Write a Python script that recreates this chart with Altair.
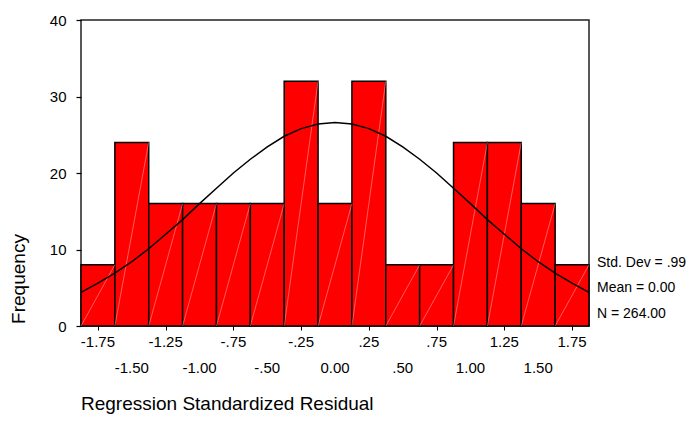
import altair as alt
import pandas as pd

# --- data -------------------------------------------------------------------
bin_centers = [-1.75, -1.50, -1.25, -1.00, -0.75, -0.50, -0.25, 0.00,
               0.25, 0.50, 0.75, 1.00, 1.25, 1.50, 1.75]
frequencies = [8, 24, 16, 16, 16, 16, 32, 16, 32, 8, 8, 24, 24, 16, 8]
bin_width = 0.25

curve_x = [-1.875, -1.75, -1.625, -1.5, -1.375, -1.25, -1.125, -1.0, -0.875,
           -0.75, -0.625, -0.5, -0.375, -0.25, -0.125, 0.0, 0.125, 0.25,
           0.375, 0.5, 0.625, 0.75, 0.875, 1.0, 1.125, 1.25, 1.375, 1.5,
           1.625, 1.75, 1.875]
curve_y = [4.4, 5.6, 6.9, 8.4, 10.1, 12.0, 13.9, 16.0, 18.0, 20.0, 21.8,
           23.4, 24.8, 25.8, 26.4, 26.6, 26.4, 25.8, 24.8, 23.4, 21.8, 20.0,
           18.0, 16.0, 13.9, 12.0, 10.1, 8.4, 6.9, 5.6, 4.4]

tick_labels = ["-1.75", "-1.50", "-1.25", "-1.00", "-.75", "-.50", "-.25",
               "0.00", ".25", ".50", ".75", "1.00", "1.25", "1.50", "1.75"]
y_ticks = [0, 10, 20, 30, 40]

stats_labels = ["Std. Dev = .99", "Mean = 0.00", "N = 264.00"]
x_title = "Regression Standardized Residual"
y_title = "Frequency"

# --- tables -------------------------------------------------------------------
bars = pd.DataFrame({"center": bin_centers, "freq": frequencies})
bars["x0"] = bars["center"] - bin_width / 2
bars["x1"] = bars["center"] + bin_width / 2
bars["zero"] = 0

curve = pd.DataFrame({"x": curve_x, "y": curve_y})
ticks = pd.DataFrame({"x": bin_centers, "label": tick_labels})
top_row = ticks.iloc[0::2]
bottom_row = ticks.iloc[1::2]

W, H = 508, 306
FONT = "Liberation Sans"

xs = alt.Scale(domain=[-1.875, 1.875], nice=False, zero=False)
ys = alt.Scale(domain=[0, 40], nice=False)

x_axis = alt.Axis(values=bin_centers, labels=False, title=None, domain=False,
                  grid=False, tickSize=4, tickColor="black", tickWidth=1)
y_axis = alt.Axis(values=y_ticks, title=None, domain=False, grid=False,
                  tickSize=5, tickColor="black", tickWidth=1.2,
                  labelFontSize=15, labelFont=FONT, labelColor="black",
                  labelPadding=10)

base = alt.Chart(bars)

rects = base.mark_rect(fill="#ff0000", stroke="black", strokeWidth=1.5).encode(
    x=alt.X("x0:Q", scale=xs, axis=x_axis),
    x2="x1:Q",
    y=alt.Y("freq:Q", scale=ys, axis=y_axis),
    y2="zero:Q",
)

hatch = base.mark_rule(color="white", opacity=0.45, strokeWidth=0.8).encode(
    x=alt.X("x0:Q", scale=xs, title=None),
    x2="x1:Q",
    y=alt.Y("zero:Q", scale=ys, title=None),
    y2="freq:Q",
)

line = alt.Chart(curve).mark_line(color="black", strokeWidth=1.5).encode(
    x=alt.X("x:Q", scale=xs, title=None),
    y=alt.Y("y:Q", scale=ys, title=None),
)

lab_top = alt.Chart(top_row).mark_text(
    font=FONT, fontSize=15, baseline="alphabetic", align="center", color="black"
).encode(x=alt.X("x:Q", scale=xs, title=None), y=alt.value(H + 21), text="label:N")

lab_bot = alt.Chart(bottom_row).mark_text(
    font=FONT, fontSize=15, baseline="alphabetic", align="center", color="black"
).encode(x=alt.X("x:Q", scale=xs, title=None), y=alt.value(H + 47), text="label:N")

stats_y = [247, 272, 298]
stats_layers = [
    alt.Chart(pd.DataFrame({"t": [s]})).mark_text(
        font=FONT, fontSize=14, baseline="alphabetic", align="left", color="black"
    ).encode(x=alt.value(W + 8), y=alt.value(yv), text="t:N")
    for s, yv in zip(stats_labels, stats_y)
]

xt = alt.Chart(pd.DataFrame({"t": [x_title]})).mark_text(
    font=FONT, fontSize=19, baseline="alphabetic", align="left", color="black"
).encode(x=alt.value(0), y=alt.value(H + 84), text="t:N")

yt = alt.Chart(pd.DataFrame({"t": [y_title]})).mark_text(
    font=FONT, fontSize=19, baseline="alphabetic", align="center", angle=270,
    color="black"
).encode(x=alt.value(-56), y=alt.value(259), text="t:N")

chart = alt.layer(rects, hatch, line, lab_top, lab_bot, *stats_layers, xt, yt).properties(
    width=W, height=H,
    padding={"left": 73, "top": 12, "right": 99, "bottom": 91},
    autosize=alt.AutoSizeParams(type="none"),
).configure(font=FONT).configure_view(stroke="#222", strokeWidth=1.5)

chart.save("out.html", embed_options={"renderer": "svg", "actions": False})
